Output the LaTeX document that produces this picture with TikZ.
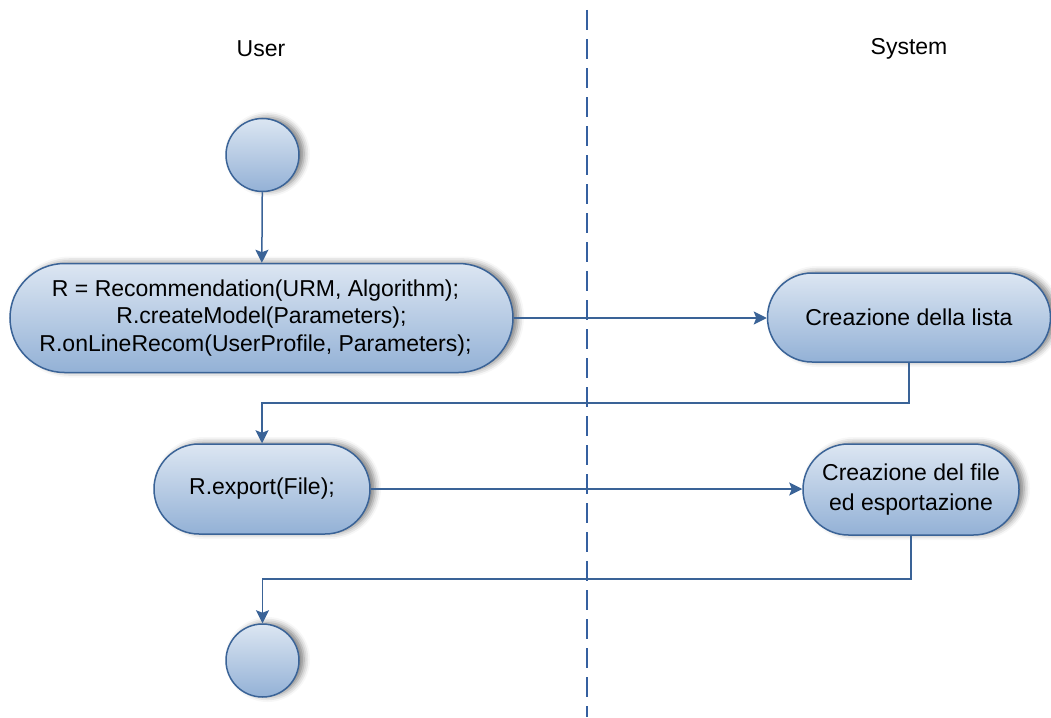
\documentclass[tikz,border=0pt]{standalone}
\usepackage{fontspec}
\setmainfont{Liberation Sans}
\usetikzlibrary{arrows.meta,shadows.blur}

\definecolor{edgeblue}{HTML}{3A6397}
\definecolor{filltop}{HTML}{DCE6F2}
\definecolor{fillbot}{HTML}{93B1D6}
\definecolor{laneblue}{HTML}{3560A0}

\tikzset{
  shade box/.style={draw=edgeblue, line width=1.5pt, top color=filltop, bottom color=fillbot,
    blur shadow={shadow xshift=5pt, shadow yshift=1pt, shadow blur radius=6pt, shadow opacity=50}},
  terminal/.style={shade box, circle, minimum size=73pt, inner sep=0pt},
  activity/.style={shade box, rectangle, inner sep=0pt, align=center,
    font=\fontsize{23}{27.5}\selectfont},
  flow/.style={draw=edgeblue, line width=1.5pt,
    -{Stealth[length=13pt,width=13pt,inset=2.5pt]}},
  lane title/.style={font=\fontsize{23}{25}\selectfont},
}

\begin{document}
\begin{tikzpicture}[x=1pt,y=-1pt]
\useasboundingbox (0,0) rectangle (1051,717);

% swimlane separator
\draw[laneblue, line width=2pt, dash pattern=on 20pt off 9pt] (586.5,10) -- (586.5,717);

% lane titles
\node[lane title] (user) at (261,49) {User};
\node[lane title] (system) at (909,49) {System};

% activity nodes
\node[terminal] (start) at (262.5,155) {};
\node[activity, minimum width=503pt, minimum height=109pt, rounded corners=54.5pt] (act) at (261.5,318)
  {R = Recommendation(URM,\ Algorithm);\hspace*{12pt}\\R.createModel(Parameters);\hspace*{12pt}\\R.onLineRecom(UserProfile,\ Parameters);\hspace*{12pt}};
\node[activity, minimum width=283pt, minimum height=89pt, rounded corners=44.5pt] (list) at (909,317.5)
  {Creazione della lista};
\node[activity, minimum width=216pt, minimum height=90pt, rounded corners=45pt] (export) at (262,489)
  {R.export(File);};
\node[activity, minimum width=216pt, minimum height=91pt, rounded corners=45.5pt,
  font=\fontsize{23}{30}\selectfont] (file) at (911,489.5)
  {Creazione del file\\ed esportazione};
\node[terminal] (end) at (262.5,660.5) {};

% junction heights of the return paths
\coordinate (j1) at (0,403);
\coordinate (j2) at (0,579);

% control flow
\draw[flow] (start) -- (act);
\draw[flow] (act.east) -- (act.east -| list.west);
\draw[flow] (list.south) |- (export.north |- j1) -- (export.north);
\draw[flow] (export.east) -- (export.east -| file.west);
\draw[flow] (file.south) |- (end.north |- j2) -- (end.north);
\end{tikzpicture}
\end{document}
